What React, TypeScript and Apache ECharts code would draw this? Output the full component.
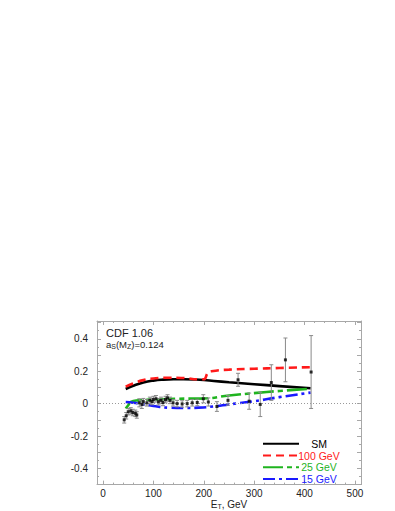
import React, { useEffect, useRef } from "react";
import * as echarts from "echarts";

// Theory curves (E_T in GeV, ratio value)
const smX = [45, 60, 80, 100, 120, 140, 160, 180, 200, 220, 250, 300, 350, 412];
const smY = [0.09, 0.11, 0.13, 0.142, 0.148, 0.15, 0.15, 0.149, 0.146, 0.14, 0.132, 0.12, 0.108, 0.095];

const gev100X = [45, 60, 80, 100, 130, 160, 190, 200, 208, 215, 250, 300, 350, 412];
const gev100Y = [0.105, 0.125, 0.145, 0.155, 0.16, 0.158, 0.15, 0.15, 0.19, 0.2, 0.21, 0.215, 0.22, 0.225];

const gev25X = [45, 50, 55, 70, 100, 150, 200, 250, 300, 350, 412];
const gev25Y = [-0.03, -0.01, 0.01, 0.02, 0.025, 0.03, 0.032, 0.05, 0.065, 0.078, 0.092];

const gev15X = [45, 60, 80, 100, 130, 160, 190, 220, 250, 300, 350, 412];
const gev15Y = [0.01, 0.005, -0.005, -0.015, -0.025, -0.027, -0.025, -0.017, -0.005, 0.015, 0.04, 0.068];

// CDF data points
const dataX = [42, 46, 50, 55, 59, 64, 67, 72, 77, 80, 87, 93, 97, 100, 105, 110, 115, 119, 124, 128, 133, 139, 147, 157, 167, 177, 187, 199, 209, 226, 248, 268, 290, 312, 334, 362, 413];
const dataY = [-0.1, -0.075, -0.05, -0.045, -0.055, -0.06, -0.07, 0.005, -0.005, 0.012, 0.005, 0.02, 0.013, 0.025, 0.03, 0.012, 0.02, 0.007, 0.025, 0.035, 0.02, 0.005, 0.0, -0.002, 0.0, 0.005, 0.007, 0.03, 0.01, -0.018, 0.02, 0.147, 0.015, -0.005, 0.13, 0.27, 0.195];
const dataErr = [0.02, 0.02, 0.02, 0.02, 0.02, 0.02, 0.02, 0.025, 0.025, 0.02, 0.02, 0.02, 0.02, 0.02, 0.02, 0.02, 0.02, 0.02, 0.02, 0.02, 0.02, 0.02, 0.02, 0.02, 0.02, 0.02, 0.02, 0.025, 0.025, 0.03, 0.03, 0.04, 0.05, 0.075, 0.11, 0.135, 0.225];

const legendNames = ["SM", "100 GeV", "25 GeV", "15 GeV"];
const colors = ["#000000", "#ff1a1a", "#1fb41f", "#1a1aff"];

const FONT = '"Liberation Sans", Arial, sans-serif';

function zip(xs: number[], ys: number[]) {
  return xs.map((x, i) => [x, ys[i]]);
}

export default function App() {
  const ref = useRef<HTMLDivElement>(null);
  useEffect(() => {
    if (!ref.current) return;
    const chart = echarts.init(ref.current, null, { renderer: "svg" });
    const axisGray = "#a8a8a8";
    const xFmt = (v: number) => (Math.abs(v % 100) < 1e-6 ? String(v) : "");
    const yFmt = (v: number) => {
      const r = Math.round(v * 100) / 100;
      if (Math.abs(r * 5 - Math.round(r * 5)) < 1e-6 && Math.abs(r) < 0.45) {
        return r === 0 ? "0" : r.toFixed(1);
      }
      return "";
    };
    const axisLine = { show: true, onZero: false, lineStyle: { color: axisGray, width: 1 } };
    const lineBase = (name: string, xs: number[], ys: number[], color: string, type: any, z: number) => ({
      name,
      type: "line",
      data: zip(xs, ys),
      symbol: "none",
      smooth: true,
      z,
      lineStyle: { color, width: 2.6, type },
      itemStyle: { color },
    });
    const legendRich: any = {};
    colors.forEach((c, i) => {
      legendRich["c" + i] = {
        color: c,
        fontSize: 10.5,
        lineHeight: 11.7,
        fontFamily: FONT,
        width: 30,
        align: "center",
      };
    });
    chart.setOption({
      animation: false,
      textStyle: { fontFamily: FONT },
      grid: { left: 97, right: 34, top: 321, bottom: 26, show: false },
      xAxis: [
        {
          type: "value",
          min: -12,
          max: 512,
          splitNumber: 5,
          position: "bottom",
          name: "E{sub|T}, GeV",
          nameLocation: "middle",
          nameGap: 12,
          nameTextStyle: {
            fontSize: 10,
            color: "#222",
            fontFamily: FONT,
            rich: { sub: { fontSize: 7, verticalAlign: "bottom", padding: [4, 0, 0, 0], color: "#222" } },
          },
          axisLine,
          axisTick: { show: true, inside: true, length: 4, lineStyle: { color: axisGray } },
          minorTick: { show: true, splitNumber: 5, length: 2, lineStyle: { color: axisGray } },
          splitLine: { show: false },
          axisLabel: { formatter: xFmt, fontSize: 10, color: "#222", margin: 4, fontFamily: FONT },
        },
        {
          type: "value",
          min: -12,
          max: 512,
          splitNumber: 5,
          position: "top",
          axisLine,
          axisTick: { show: true, inside: true, length: 4, lineStyle: { color: axisGray } },
          minorTick: { show: true, splitNumber: 5, length: 2, lineStyle: { color: axisGray } },
          splitLine: { show: false },
          axisLabel: { show: false },
        },
      ],
      yAxis: [
        {
          type: "value",
          min: -0.5,
          max: 0.51,
          interval: 0.1,
          position: "left",
          axisLine,
          axisTick: { show: true, inside: true, length: 4, lineStyle: { color: axisGray } },
          minorTick: { show: true, splitNumber: 2, length: 2, lineStyle: { color: axisGray } },
          splitLine: { show: false },
          axisLabel: { formatter: yFmt, fontSize: 10, color: "#222", margin: 9, fontFamily: FONT },
        },
        {
          type: "value",
          min: -0.5,
          max: 0.51,
          interval: 0.1,
          position: "right",
          axisLine,
          axisTick: { show: true, inside: true, length: 4, lineStyle: { color: axisGray } },
          minorTick: { show: true, splitNumber: 2, length: 2, lineStyle: { color: axisGray } },
          splitLine: { show: false },
          axisLabel: { show: false },
        },
      ],
      legend: {
        orient: "vertical",
        left: 262,
        top: 438,
        padding: 0,
        itemWidth: 36,
        itemHeight: 10,
        itemGap: 0,
        itemStyle: { opacity: 0 },
        data: legendNames,
        formatter: (name: string) => `{c${legendNames.indexOf(name)}|${name}}`,
        textStyle: { fontSize: 10.5, lineHeight: 11.7, fontFamily: FONT, rich: legendRich },
        selectedMode: false,
      },
      graphic: [
        {
          type: "text",
          left: 106,
          top: 327,
          style: { text: "CDF 1.06", font: `11px ${FONT}`, fill: "#222" },
        },
        {
          type: "text",
          left: 106,
          top: 339,
          style: {
            text: "a{sub|S}(M{sub|Z})=0.124",
            font: `9.5px ${FONT}`,
            fill: "#222",
            rich: { sub: { fontSize: 7, fill: "#222", padding: [4, 0, 0, 0], fontFamily: FONT } },
          },
        },
      ],
      series: [
        {
          ...lineBase(legendNames[0], smX, smY, colors[0], "solid", 3),
          markLine: {
            silent: true,
            symbol: "none",
            label: { show: false },
            lineStyle: { color: "#999", type: [1, 2], width: 1 },
            data: [{ yAxis: 0 }],
          },
        },
        lineBase(legendNames[1], gev100X, gev100Y, colors[1], [8, 5], 3),
        lineBase(legendNames[2], gev25X, gev25Y, colors[2], [20, 4, 5, 4], 3),
        lineBase(legendNames[3], gev15X, gev15Y, colors[3], [12, 4, 3, 4], 3),
        {
          name: "errors",
          type: "custom",
          z: 4,
          data: dataX.map((x, i) => [x, dataY[i] - dataErr[i], dataY[i] + dataErr[i]]),
          encode: { x: 0, y: [1, 2] },
          renderItem: (params: any, api: any) => {
            const x = api.value(0);
            const lo = api.coord([x, api.value(1)]);
            const hi = api.coord([x, api.value(2)]);
            const cap = 2;
            const st = { stroke: "#8a8a8a", lineWidth: 1 };
            return {
              type: "group",
              children: [
                { type: "line", shape: { x1: lo[0], y1: lo[1], x2: hi[0], y2: hi[1] }, style: st },
                { type: "line", shape: { x1: lo[0] - cap, y1: lo[1], x2: lo[0] + cap, y2: lo[1] }, style: st },
                { type: "line", shape: { x1: hi[0] - cap, y1: hi[1], x2: hi[0] + cap, y2: hi[1] }, style: st },
              ],
            };
          },
        },
        {
          name: "CDF",
          type: "scatter",
          z: 5,
          symbol: "rect",
          symbolSize: 3,
          itemStyle: { color: "#000" },
          data: zip(dataX, dataY),
        },
      ],
    });
    return () => chart.dispose();
  }, []);
  return (
    <div
      ref={ref}
      style={{ position: "fixed", left: 0, top: 0, width: 395, height: 511, background: "#fff" }}
    />
  );
}
